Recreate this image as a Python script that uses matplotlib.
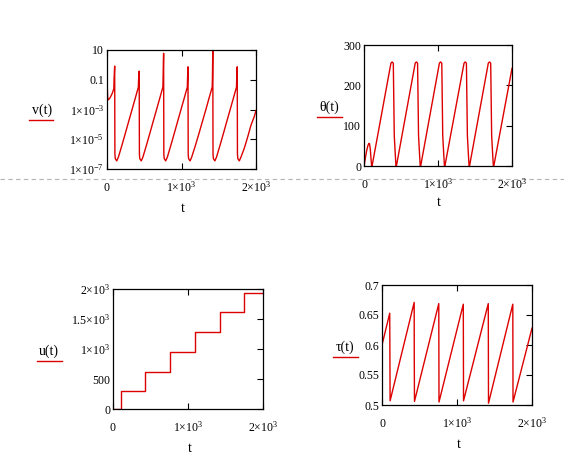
import matplotlib
matplotlib.use('Agg')
import matplotlib.pyplot as plt
from matplotlib.lines import Line2D
from matplotlib.ticker import NullLocator

# ---- dados ----
# v(t) (escala log)
t_v = [0, 4, 10, 20, 40, 70, 92, 95, 103,
       106, 111, 131, 153, 198, 243, 288, 333, 377, 421, 424, 432,
       435, 440, 460, 482, 527, 572, 617, 662, 706, 750, 753, 760,
       763, 768, 788, 810, 855, 900, 945, 990, 1034, 1078, 1081, 1087,
       1090, 1095, 1115, 1137, 1185, 1232, 1278, 1324, 1367, 1412, 1415, 1420,
       1423, 1428, 1448, 1470, 1515, 1560, 1605, 1650, 1694, 1738, 1741, 1748,
       1751, 1756, 1776, 1798, 1843, 1888, 1933, 1978, 2000]
v = [1.6, 0.03, 5e-3, 4.5e-3, 6e-3, 0.012, 0.025, 0.11, 0.83,
     1e-6, 5e-7, 3.5e-7, 6.3e-7, 3.6e-6, 2.2e-5, 1.4e-4, 8.7e-4, 5.2e-3, 0.032, 0.11, 0.38,
     1e-6, 5e-7, 3.5e-7, 6.3e-7, 3.6e-6, 2.2e-5, 1.4e-4, 8.7e-4, 5.2e-3, 0.032, 0.11, 6.0,
     1e-6, 5e-7, 3.5e-7, 6.3e-7, 3.6e-6, 2.2e-5, 1.4e-4, 8.7e-4, 5.2e-3, 0.032, 0.11, 0.74,
     1e-6, 5e-7, 3.5e-7, 6.3e-7, 3.6e-6, 2.2e-5, 1.4e-4, 8.7e-4, 5.2e-3, 0.032, 0.11, 10.0,
     1e-6, 5e-7, 3.5e-7, 6.3e-7, 3.6e-6, 2.2e-5, 1.4e-4, 8.7e-4, 5.2e-3, 0.032, 0.11, 0.74,
     1e-6, 5e-7, 3.5e-7, 6.3e-7, 2.5e-6, 1.4e-5, 8.9e-5, 3.5e-4, 8.5e-4]

# theta(t)
t_th = [0, 15, 35, 52, 65, 75, 85, 95, 103,
        109, 364, 380, 396, 409, 422, 432,
        438, 692, 708, 724, 737, 750, 760,
        766, 1019, 1035, 1051, 1064, 1077, 1087,
        1093, 1352, 1368, 1384, 1397, 1410, 1420,
        1426, 1680, 1696, 1712, 1725, 1738, 1748,
        1754, 2000]
theta = [0, 16, 37, 50, 56, 55, 42, 18, 0,
         0, 255, 258, 255, 76, 31, 0,
         0, 255, 258, 255, 76, 31, 0,
         0, 255, 258, 255, 76, 31, 0,
         0, 255, 258, 255, 76, 31, 0,
         0, 255, 258, 255, 76, 31, 0,
         0, 242]

# u(t) (degraus)
t_u = [0, 108, 433, 763, 1087, 1420, 1747, 2000]
u = [0, 300, 617, 956, 1289, 1617, 1933, 1933]

# tau(t)
t_tau = [0, 103, 108, 429, 430, 433, 757, 760, 1084, 1087, 1417, 1420, 1744, 1747, 2000]
tau = [0.600, 0.653, 0.507, 0.671, 0.590, 0.506, 0.669, 0.505, 0.668, 0.507,
       0.669, 0.503, 0.668, 0.505, 0.628]

x_ticks = [0, 1000, 2000]
x_labels = ['0', r'$\mathregular{1{\times}10^{3}}$', r'$\mathregular{2{\times}10^{3}}$']

# ---- estilo ----
plt.rcParams['font.family'] = ['Liberation Serif', 'DejaVu Serif']
plt.rcParams['mathtext.fontset'] = 'custom'
plt.rcParams['mathtext.rm'] = 'Liberation Serif'
plt.rcParams['mathtext.it'] = 'Liberation Serif:italic'
plt.rcParams['font.size'] = 8.5

W, H = 564, 475
cor = '#dd0000'

fig = plt.figure(figsize=(W/100, H/100), dpi=100)


def eixo(x0, y0, x1, y1):
    ax = fig.add_axes([x0/W, 1 - y1/H, (x1 - x0)/W, (y1 - y0)/H])
    ax.tick_params(axis='y', left=False, right=True, labelleft=True, direction='in',
                   length=4, width=0.8, pad=2, labelsize=8.5)
    ax.tick_params(axis='x', bottom=True, top=True, direction='in',
                   length=4, width=0.8, pad=16, labelsize=8.5)
    for s in ax.spines.values():
        s.set_linewidth(0.9)
    ax.set_xlim(0, 2000)
    ax.set_xticks(x_ticks)
    ax.set_xticklabels(x_labels)
    plt.setp(ax.get_xticklabels(), va='baseline')
    return ax


def rotulo(texto, cx, cy, lx0, lx1, ly):
    fig.text(cx/W, 1 - cy/H, texto, ha='center', va='center', fontsize=10)
    fig.add_artist(Line2D([lx0/W, lx1/W], [1 - ly/H, 1 - ly/H], color=cor, lw=1))


# v(t)
ax1 = eixo(107, 50, 256, 169)
ax1.plot(t_v, v, color=cor, lw=1)
ax1.set_yscale('log')
ax1.set_ylim(1e-7, 10)
ax1.set_yticks([1e-7, 1e-5, 1e-3, 0.1, 10])
ax1.set_yticklabels([r'$\mathregular{1{\times}10^{-7}}$', r'$\mathregular{1{\times}10^{-5}}$',
                     r'$\mathregular{1{\times}10^{-3}}$', '0.1', '10'])
ax1.yaxis.set_minor_locator(NullLocator())
rotulo('v(t)', 42, 110, 29, 53, 120)
fig.text(183/W, 1 - 208/H, 't', ha='center', va='center', fontsize=10)

# theta(t)
ax2 = eixo(364, 45, 512, 166)
ax2.plot(t_th, theta, color=cor, lw=1)
ax2.set_ylim(0, 300)
ax2.set_yticks([0, 100, 200, 300])
rotulo('θ(t)', 329, 107, 317, 342, 117)
fig.text(439/W, 1 - 203/H, 't', ha='center', va='center', fontsize=10)

# u(t)
ax3 = eixo(113, 289, 263, 409)
ax3.plot(t_u, u, color=cor, lw=1, drawstyle='steps-post')
ax3.set_ylim(0, 2000)
ax3.set_yticks([0, 500, 1000, 1500, 2000])
ax3.set_yticklabels(['0', '500', r'$\mathregular{1{\times}10^{3}}$',
                     r'$\mathregular{1.5{\times}10^{3}}$', r'$\mathregular{2{\times}10^{3}}$'])
rotulo('u(t)', 49, 351, 37, 62, 361)
fig.text(190/W, 1 - 448/H, 't', ha='center', va='center', fontsize=10)

# tau(t)
ax4 = eixo(382, 285, 532, 405)
ax4.plot(t_tau, tau, color=cor, lw=1)
ax4.set_ylim(0.5, 0.7)
ax4.set_yticks([0.5, 0.55, 0.6, 0.65, 0.7])
ax4.set_yticklabels(['0.5', '0.55', '0.6', '0.65', '0.7'])
rotulo('τ(t)', 345, 347, 333, 358, 357)
fig.text(459/W, 1 - 444/H, 't', ha='center', va='center', fontsize=10)

# linha tracejada de quebra de pagina
fig.add_artist(Line2D([0, 1], [1 - 179/H, 1 - 179/H], color='#b4b4b4', lw=0.8,
                      ls=(0, (4, 3)), zorder=0))

plt.savefig('out.png', dpi=100)
